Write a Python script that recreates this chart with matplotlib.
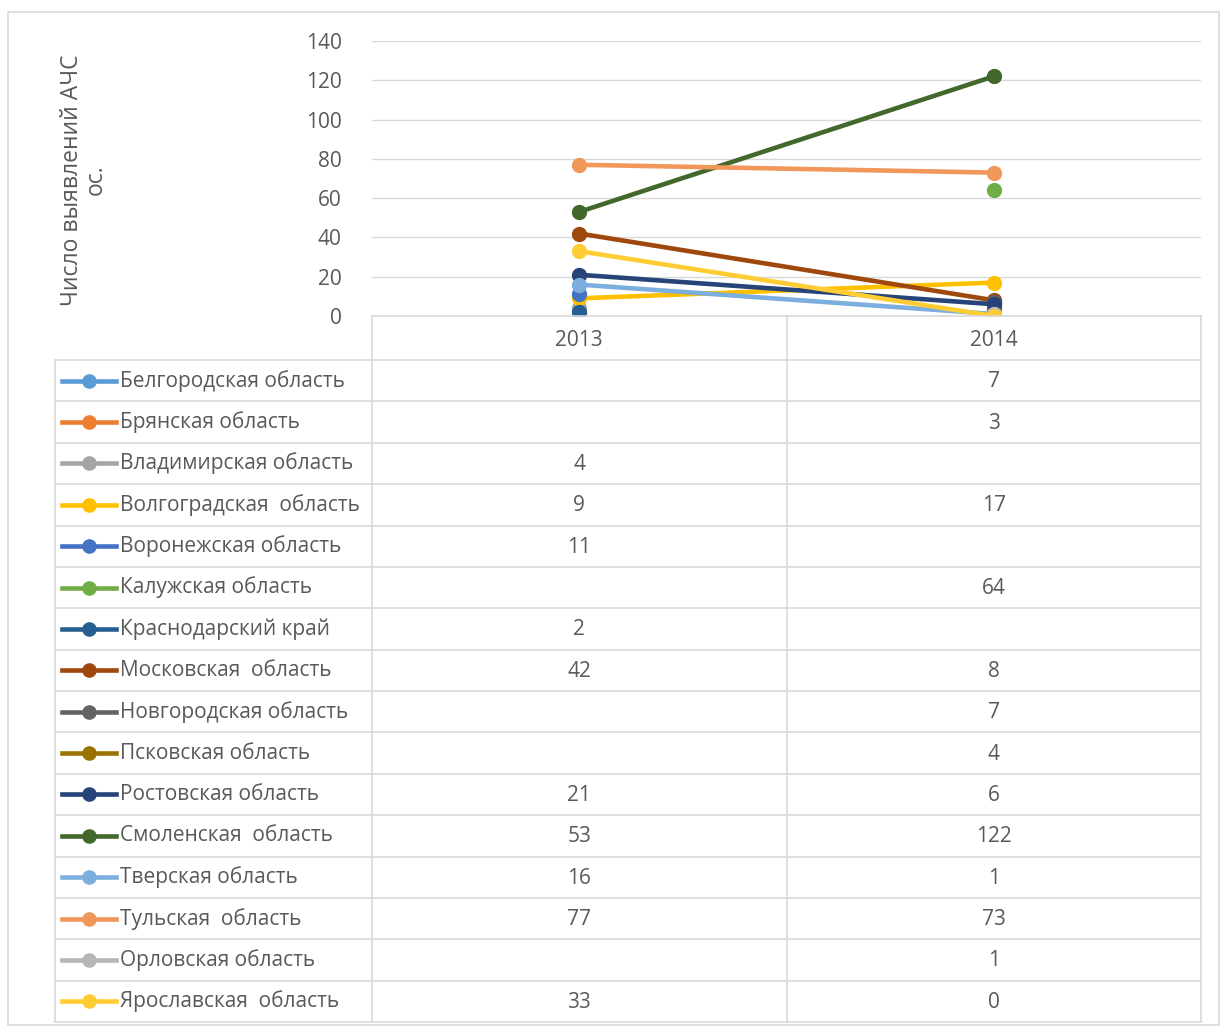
import numpy as np
import matplotlib
matplotlib.use("Agg")
import matplotlib.pyplot as plt
from matplotlib.patches import Rectangle
from matplotlib.lines import Line2D

plt.rcParams['font.family'] = ['Open Sans', 'DejaVu Sans']

years = ["2013", "2014"]
regions = ["Белгородская область", "Брянская область", "Владимирская область",
           "Волгоградская  область", "Воронежская область", "Калужская область",
           "Краснодарский край", "Московская  область", "Новгородская область",
           "Псковская область", "Ростовская область", "Смоленская  область",
           "Тверская область", "Тульская  область", "Орловская область",
           "Ярославская  область"]
nan = np.nan
values_2013 = [nan, nan, 4, 9, 11, nan, 2, 42, nan, nan, 21, 53, 16, 77, nan, 33]
values_2014 = [7, 3, nan, 17, nan, 64, nan, 8, 7, 4, 6, 122, 1, 73, 1, 0]
colors = ["#5B9BD5", "#ED7D31", "#A5A5A5", "#FFC000", "#4472C4", "#70AD47",
          "#255E91", "#9E480E", "#636363", "#997300", "#264478", "#43682B",
          "#7CAFDD", "#F1975A", "#B7B7B7", "#FFCD33"]
y_ticks = [0, 20, 40, 60, 80, 100, 120, 140]

W, H = 1221, 1027
fig = plt.figure(figsize=(W / 100, H / 100), dpi=100)

def fx(px): return px / W
def fy(py): return 1 - py / H

# chart border
fig.patches.append(Rectangle((fx(8), fy(1025)), fx(1219) - fx(8), fy(12) - fy(1025),
                             transform=fig.transFigure, fill=False,
                             edgecolor="#D9D9D9", lw=1.2))

grid_c = "#D9D9D9"
text_c = "#595959"

# main plot
L, R, T, B = 372, 1201, 41, 316
ax = fig.add_axes([fx(L), fy(B), fx(R) - fx(L), fy(T) - fy(B)])
xs = np.arange(len(years))
for i in range(len(regions)):
    ys = np.array([values_2013[i], values_2014[i]], dtype=float)
    ax.plot(xs, ys, color=colors[i], lw=3.3, marker='o', markersize=10,
            solid_capstyle='round', zorder=3 + i)
ax.set_xlim(-0.5, len(years) - 0.5)
ax.set_ylim(0, 140)
ax.set_yticks(y_ticks)
ax.set_yticklabels([str(t) for t in y_ticks], fontsize=15, color=text_c)
ax.tick_params(axis='y', length=0, pad=22)
ax.set_xticks([])
ax.grid(axis='y', color=grid_c, lw=1)
for s in ax.spines.values():
    s.set_visible(False)
ax.set_facecolor('none')

fig.text(fx(84), fy(180), "Число выявлений АЧС\nос.", rotation=90, ha='center',
         va='center', fontsize=16.5, color=text_c, linespacing=1.0,
         multialignment='center')

# data table
tax = fig.add_axes([0, 0, 1, 1])
tax.set_xlim(0, W)
tax.set_ylim(H, 0)
tax.axis('off')
TL = 55
row_top = 360
row_bot = 1022
n = len(regions)
rh = (row_bot - row_top) / n
mid1 = L + (R - L) * 0.25
mid2 = L + (R - L) * 0.75
colb = L + (R - L) * 0.5

tax.plot([L, R], [B, B], color=grid_c, lw=1.2)
for xv in [L, colb, R]:
    tax.plot([xv, xv], [B, row_bot], color=grid_c, lw=1.2)
tax.plot([TL, TL], [row_top, row_bot], color=grid_c, lw=1.2)
for k in range(n + 1):
    yv = row_top + k * rh
    tax.plot([TL, R], [yv, yv], color=grid_c, lw=1.2)

tax.text(mid1, (B + row_top) / 2 + 2, years[0], ha='center', va='center',
         fontsize=15, color=text_c)
tax.text(mid2, (B + row_top) / 2 + 2, years[1], ha='center', va='center',
         fontsize=15, color=text_c)

for i, name in enumerate(regions):
    yc = row_top + (i + 0.5) * rh
    tax.add_line(Line2D([62, 116], [yc, yc], color=colors[i], lw=3.3))
    tax.plot([89], [yc], marker='o', markersize=9.5, color=colors[i])
    tax.text(120, yc, name, ha='left', va='center', fontsize=15, color=text_c)
    for v, xc in [(values_2013[i], mid1), (values_2014[i], mid2)]:
        if not np.isnan(v):
            tax.text(xc, yc + 1, f"{int(v)}", ha='center', va='center',
                     fontsize=15, color=text_c)

fig.savefig("out.png", dpi=100)
